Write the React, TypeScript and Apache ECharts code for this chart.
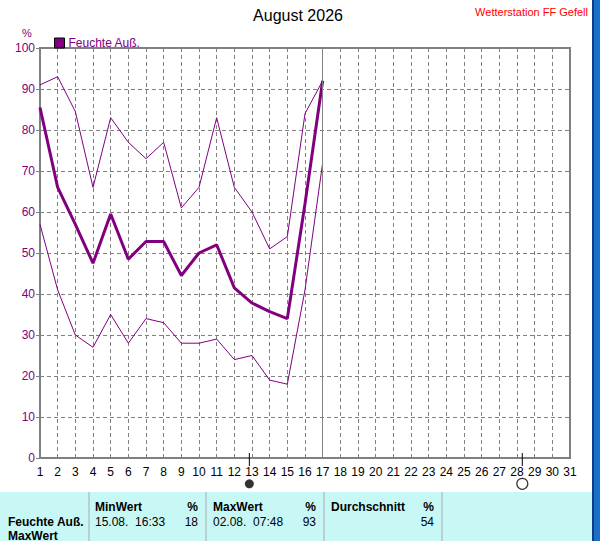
import { useEffect, useRef } from 'react';
import * as echarts from 'echarts';

// Tage im August, für die Werte vorliegen
const days = [1, 2, 3, 4, 5, 6, 7, 8, 9, 10, 11, 12, 13, 14, 15, 16, 17];
const maxValues = [91, 93, 84.5, 66, 83, 77, 73, 77, 61, 66, 83, 66, 60, 51, 54, 84, 92];
const avgValues = [85.5, 66, 57, 47.5, 59.5, 48.5, 52.8, 52.8, 44.5, 50, 52, 41.5, 37.8, 35.7, 34, 62, 92];
const minValues = [57, 41, 30, 27, 35, 28, 34, 33, 28, 28, 29, 24, 25, 19, 18, 41, 72];

const currentDay = 17;
const newMoonDay = 12.85;
const fullMoonDay = 28.3;

const tableHeaders = ['MinWert', 'MaxWert', 'Durchschnitt'];
const tableRow = ['15.08.  16:33', '18', '02.08.  07:48', '93', '', '54'];

const PURPLE = '#800080';
const GRAY = '#808080';
const FONT = '"Liberation Sans", Arial, sans-serif';

export default function App() {
  const chartRef = useRef<HTMLDivElement>(null);

  useEffect(() => {
    if (!chartRef.current) return;
    document.body.style.margin = '0';
    const chart = echarts.init(chartRef.current, null, { renderer: 'svg' });

    const pair = (vals: number[]) => days.map((d, i) => [d, vals[i]]);

    // Tabelle unten
    const colX = [95, 213, 331];
    const pctX = [198, 316, 434];
    const tableGraphics: any[] = [
      { type: 'rect', shape: { x: 0, y: 492, width: 592, height: 49 }, style: { fill: '#C8F8F6' }, silent: true },
      ...[89, 206, 324, 442].map(x => ({
        type: 'line', shape: { x1: x, y1: 492, x2: x, y2: 541 }, style: { stroke: '#A8A8A8', lineWidth: 1 }
      })),
      ...tableHeaders.flatMap((h, i) => [
        { type: 'text', x: colX[i], y: 507, style: { text: h, font: `bold 12px ${FONT}`, fill: '#000', textVerticalAlign: 'middle' } },
        { type: 'text', x: pctX[i], y: 507, style: { text: '%', font: `bold 12px ${FONT}`, fill: '#000', textAlign: 'right', textVerticalAlign: 'middle' } }
      ]),
      { type: 'text', x: 8, y: 522, style: { text: 'Feuchte Auß.', font: `bold 12px ${FONT}`, fill: '#000', textVerticalAlign: 'middle' } },
      { type: 'text', x: 8, y: 536, style: { text: 'MaxWert', font: `bold 12px ${FONT}`, fill: '#000', textVerticalAlign: 'middle' } },
      ...tableRow.map((t, i) => {
        const col = Math.floor(i / 2);
        const isValue = i % 2 === 1;
        return {
          type: 'text',
          x: isValue ? pctX[col] : colX[col],
          y: 522,
          style: { text: t, font: `12px ${FONT}`, fill: '#000', textAlign: isValue ? 'right' : 'left', textVerticalAlign: 'middle' }
        };
      })
    ];

    const option = {
      animation: false,
      backgroundColor: '#fff',
      textStyle: { fontFamily: FONT },
      grid: { left: 40, top: 48, right: 30, bottom: 83, show: true, borderColor: GRAY, borderWidth: 2, backgroundColor: 'transparent' },
      legend: {
        data: ['Feuchte Auß.'],
        left: 49,
        top: 32,
        itemWidth: 10,
        itemHeight: 10,
        itemGap: 4,
        icon: 'rect',
        itemStyle: { color: PURPLE, borderColor: '#000', borderWidth: 1 },
        textStyle: { color: PURPLE, fontSize: 12, fontFamily: FONT, padding: [0, 0, 0, -1] }
      },
      xAxis: {
        type: 'value',
        min: 1,
        max: 31,
        interval: 1,
        axisLine: { show: true, lineStyle: { color: GRAY, width: 2 } },
        axisTick: { show: false },
        axisLabel: { color: '#000', fontSize: 12, margin: 8 },
        splitLine: { show: true, lineStyle: { color: GRAY, type: [4, 3], width: 1 } }
      },
      yAxis: {
        type: 'value',
        min: 0,
        max: 100,
        interval: 10,
        axisLine: { show: true, lineStyle: { color: GRAY, width: 2 } },
        axisTick: { show: true, length: 4, lineStyle: { color: GRAY } },
        axisLabel: { color: PURPLE, fontSize: 12, margin: 5 },
        splitLine: { show: true, lineStyle: { color: GRAY, type: [4, 3], width: 1 } }
      },
      series: [
        {
          name: 'Max',
          type: 'line',
          data: pair(maxValues),
          symbol: 'none',
          lineStyle: { color: PURPLE, width: 1 },
          itemStyle: { color: PURPLE },
          markLine: {
            silent: true,
            symbol: 'none',
            label: { show: false },
            lineStyle: { color: GRAY, type: 'solid', width: 1 },
            data: [{ xAxis: currentDay }]
          }
        },
        {
          name: 'Feuchte Auß.',
          type: 'line',
          data: pair(avgValues),
          symbol: 'none',
          lineStyle: { color: PURPLE, width: 3 },
          itemStyle: { color: PURPLE }
        },
        {
          name: 'Min',
          type: 'line',
          data: pair(minValues),
          symbol: 'none',
          lineStyle: { color: PURPLE, width: 1 },
          itemStyle: { color: PURPLE }
        },
        {
          // Mondphasen-Striche an der x-Achse
          name: 'Mondtick',
          type: 'custom',
          silent: true,
          clip: false,
          data: [[newMoonDay], [fullMoonDay]],
          renderItem: (params: any, api: any) => {
            const p = api.coord([api.value(0), 0]);
            return {
              type: 'line',
              shape: { x1: p[0], y1: p[1] - 5, x2: p[0], y2: p[1] + 8 },
              style: { stroke: '#000', lineWidth: 1 }
            };
          }
        },
        {
          name: 'Neumond',
          type: 'scatter',
          clip: false,
          silent: true,
          symbol: 'circle',
          symbolSize: 9,
          itemStyle: { color: '#000' },
          data: [[newMoonDay, -6.3]]
        },
        {
          name: 'Vollmond',
          type: 'scatter',
          clip: false,
          silent: true,
          symbol: 'circle',
          symbolSize: 11,
          itemStyle: { color: '#fff', borderColor: '#000', borderWidth: 1.2 },
          data: [[fullMoonDay, -6.3]]
        }
      ],
      graphic: [
        { type: 'text', x: 298, y: 15, style: { text: 'August 2026', font: `16px ${FONT}`, fill: '#000', textAlign: 'center', textVerticalAlign: 'middle' } },
        { type: 'text', x: 588, y: 12, style: { text: 'Wetterstation FF Gefell', font: `11px ${FONT}`, fill: '#FF0000', textAlign: 'right', textVerticalAlign: 'middle' } },
        { type: 'text', x: 27, y: 33, style: { text: '%', font: `11px ${FONT}`, fill: PURPLE, textAlign: 'center', textVerticalAlign: 'middle' } },
        ...tableGraphics,
        // Rand des Nachbarfensters
        { type: 'rect', shape: { x: 592, y: 0, width: 8, height: 541 }, style: { fill: '#1A6FC8' }, silent: true },
        { type: 'rect', shape: { x: 592, y: 0, width: 2, height: 541 }, style: { fill: '#0B3F86' }, silent: true }
      ]
    };

    chart.setOption(option);
    return () => chart.dispose();
  }, []);

  return <div ref={chartRef} style={{ width: 600, height: 541, position: 'absolute', left: 0, top: 0 }} />;
}
